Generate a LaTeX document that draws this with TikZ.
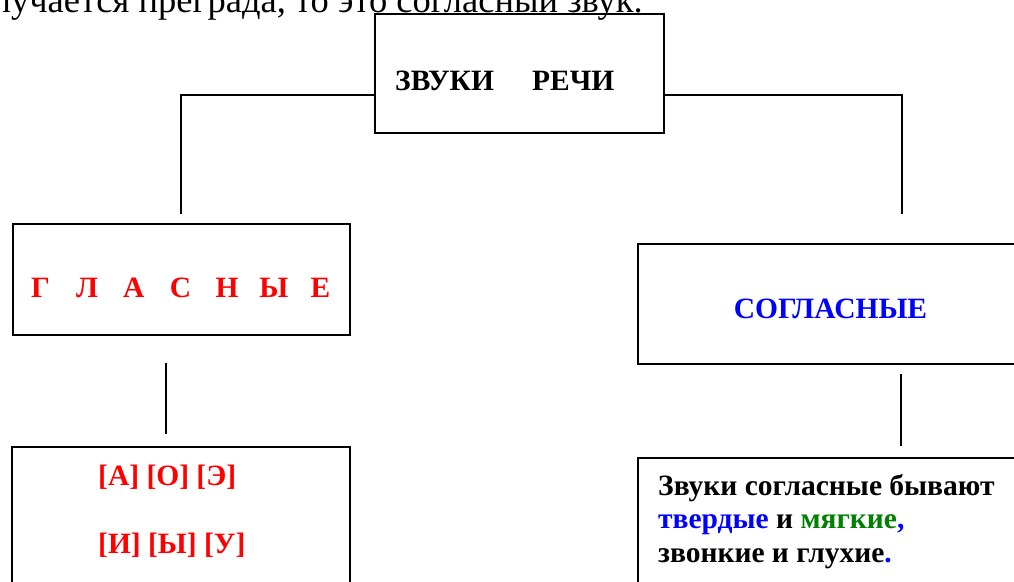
\documentclass[tikz,border=0pt]{standalone}
\usepackage{fontspec}
\setmainfont{Liberation Serif}
\definecolor{vred}{RGB}{255,0,0}
\definecolor{cblue}{RGB}{0,0,255}
\definecolor{sgreen}{RGB}{0,128,0}
\begin{document}
\begin{tikzpicture}[x=1pt,y=-1pt,
  box/.style={draw=black, line width=1.8pt, inner sep=0pt, anchor=north west},
  link/.style={draw=black, line width=1.4pt},
  big/.style={font=\fontsize{29.5}{33.5}\selectfont\bfseries, inner sep=0pt},
  plain/.style={font=\fontsize{36.5}{40}\selectfont, inner sep=0pt}]
\useasboundingbox (0,0) rectangle (1014,581);
\clip (0,0) rectangle (1014,581);
% caption fragment at the top
\node[plain, anchor=base east] (cap) at (643,12.7) {получается преграда, то это согласный звук.};
% boxes
\node[box, minimum width=289pt, minimum height=119pt] (top) at (374,13) {};
\node[box, minimum width=337pt, minimum height=111pt] (gl) at (12,223) {};
\node[box, minimum width=338pt, minimum height=200pt] (glb) at (11,446) {};
\node[box, minimum width=450pt, minimum height=120pt] (sg) at (637,243) {};
\node[box, minimum width=450pt, minimum height=200pt] (sgb) at (637,457) {};
% texts
\node[big, anchor=base west] (topt) at (395,90) {ЗВУКИ\hspace{38pt}РЕЧИ};
\node[big, text=vred] (glt) at (180.5,288) {\makebox[46.67pt]{Г}\makebox[46.67pt]{Л}\makebox[46.67pt]{А}\makebox[46.67pt]{С}\makebox[46.67pt]{Н}\makebox[46.67pt]{Ы}\makebox[46.67pt]{Е}};
\node[big, text=cblue] (sgt) at (830.5,309) {СОГЛАСНЫЕ};
\node[big, text=vred, anchor=base west] (glb1) at (98,485) {[А] [О] [Э]};
\node[big, text=vred, anchor=base west] (glb2) at (98,553) {[И] [Ы] [У]};
\node[big, anchor=base west] (sgb1) at (658,495) {Звуки согласные бывают};
\node[big, anchor=base west] (sgb2) at (658,528.5) {\textcolor{cblue}{твердые} и \textcolor{sgreen}{мягкие}\textcolor{cblue}{,}};
\node[big, anchor=base west] (sgb3) at (658,562) {звонкие и глухие\textcolor{cblue}{.}};
% connectors
\coordinate (lend) at (181,214);
\coordinate (rend) at (902,214);
\coordinate (l1) at (166,363);
\coordinate (l2) at (166,434);
\coordinate (r1) at (901,374);
\coordinate (r2) at (901,446);
\draw[link] ([yshift=-21.5pt]top.west) -| (lend);
\draw[link] ([yshift=-21.5pt]top.east) -| (rend);
\draw[link] (l1) -- (l2);
\draw[link] (r1) -- (r2);
\end{tikzpicture}
\end{document}
